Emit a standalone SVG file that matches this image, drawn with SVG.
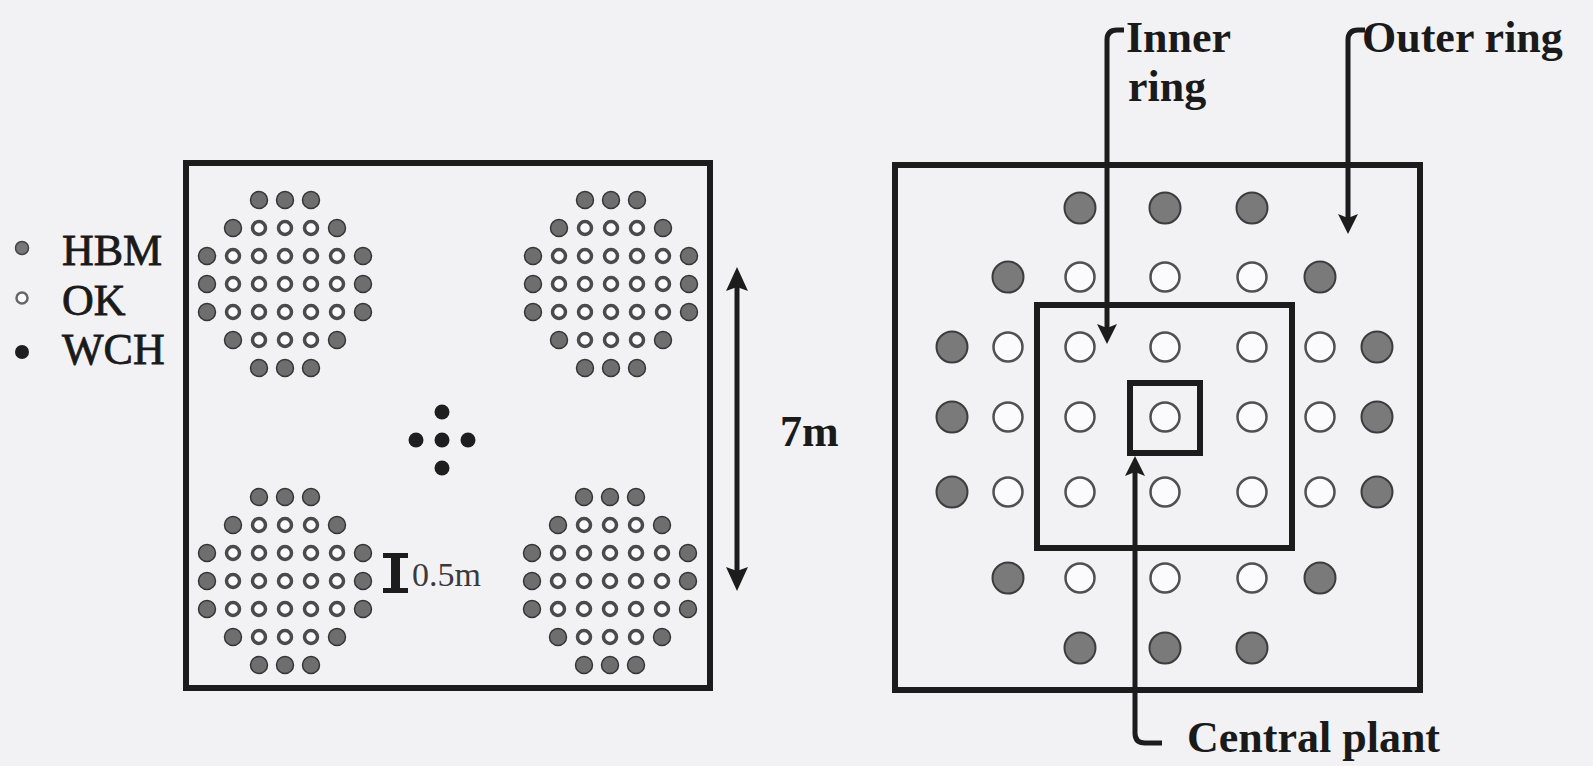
<svg xmlns="http://www.w3.org/2000/svg" width="1593" height="766" viewBox="0 0 1593 766">
<style>
.box{fill:none;stroke:#1c1c1c;stroke-width:6}
.lead{fill:none;stroke:#1c1c1c;stroke-width:5}
.head{fill:#1c1c1c}
.hs{fill:#6e6e6e;stroke:#353535;stroke-width:1.5}
.os{fill:#fbfbfd;stroke:#4a4a4a;stroke-width:3.5}
.hb{fill:#7a7a7a;stroke:#3c3c3c;stroke-width:2}
.ob{fill:#fbfbfd;stroke:#505050;stroke-width:2.5}
.w{fill:#1e1e1e}
.lab{font-family:"Liberation Serif","Times New Roman",serif;font-weight:bold;font-size:44px;fill:#1a1a1a}
.leg{font-family:"Liberation Serif","Times New Roman",serif;font-size:44px;fill:#1a1a1a;stroke:#1a1a1a;stroke-width:0.8}
.sc{font-family:"Liberation Serif","Times New Roman",serif;font-size:34px;fill:#3a3a3a}
</style>
<defs>
<circle id="h" r="8.5" class="hs"/>
<circle id="o" r="6.5" class="os"/>
<circle id="H" r="15.5" class="hb"/>
<circle id="O" r="14.5" class="ob"/>
<g id="cl">
<use href="#h" x="52" y="0"/><use href="#h" x="78" y="0"/><use href="#h" x="104" y="0"/>
<use href="#h" x="26" y="28"/><use href="#o" x="52" y="28"/><use href="#o" x="78" y="28"/><use href="#o" x="104" y="28"/><use href="#h" x="130" y="28"/>
<use href="#h" x="0" y="56"/><use href="#o" x="26" y="56"/><use href="#o" x="52" y="56"/><use href="#o" x="78" y="56"/><use href="#o" x="104" y="56"/><use href="#o" x="130" y="56"/><use href="#h" x="156" y="56"/>
<use href="#h" x="0" y="84"/><use href="#o" x="26" y="84"/><use href="#o" x="52" y="84"/><use href="#o" x="78" y="84"/><use href="#o" x="104" y="84"/><use href="#o" x="130" y="84"/><use href="#h" x="156" y="84"/>
<use href="#h" x="0" y="112"/><use href="#o" x="26" y="112"/><use href="#o" x="52" y="112"/><use href="#o" x="78" y="112"/><use href="#o" x="104" y="112"/><use href="#o" x="130" y="112"/><use href="#h" x="156" y="112"/>
<use href="#h" x="26" y="140"/><use href="#o" x="52" y="140"/><use href="#o" x="78" y="140"/><use href="#o" x="104" y="140"/><use href="#h" x="130" y="140"/>
<use href="#h" x="52" y="168"/><use href="#h" x="78" y="168"/><use href="#h" x="104" y="168"/>
</g>
</defs>
<rect x="0" y="0" width="1593" height="766" fill="#f2f2f5"/>

<g id="legend">
<circle cx="22" cy="248" r="6.5" fill="#777" stroke="#444" stroke-width="1.5"/>
<text class="leg" x="62" y="265">HBM</text>
<circle cx="22" cy="298" r="5.5" fill="#fbfbfd" stroke="#666" stroke-width="2.5"/>
<text class="leg" x="62" y="315">OK</text>
<circle cx="22" cy="352" r="7" class="w"/>
<text class="leg" x="62" y="364">WCH</text>
</g>

<g id="left-plot">
<rect class="box" x="186" y="163" width="524" height="525"/>
<use id="cluster-tl" href="#cl" x="207" y="200"/>
<use id="cluster-tr" href="#cl" x="533" y="200"/>
<use id="cluster-bl" href="#cl" x="207" y="497"/>
<use id="cluster-br" href="#cl" x="532" y="497"/>
<g id="wch-cluster">
<circle cx="442" cy="412" r="7.5" class="w"/>
<circle cx="416" cy="440" r="7.5" class="w"/>
<circle cx="442" cy="440" r="7.5" class="w"/>
<circle cx="468" cy="440" r="7.5" class="w"/>
<circle cx="442" cy="468" r="7.5" class="w"/>
</g>
<g id="scale-bar">
<path class="head" d="M383,553 H408 V558 H400 V588 H408 V593 H383 V588 H391 V558 H383 Z"/>
<text class="sc" x="412" y="586">0.5m</text>
</g>
</g>

<g id="dimension">
<line class="lead" x1="737" y1="286" x2="737" y2="572"/>
<polygon class="head" points="737,267 748,291 737,287 726,291"/>
<polygon class="head" points="737,591 748,567 737,571 726,567"/>
<text class="lab" x="780" y="446">7m</text>
</g>

<g id="right-plot">
<rect id="outer-ring-box" class="box" x="895" y="165" width="525" height="525"/>
<rect id="inner-ring-box" class="box" x="1037" y="305" width="255" height="243"/>
<rect id="central-box" class="box" x="1130" y="383" width="70" height="70"/>
<g id="plants">
<use href="#H" x="1080" y="208"/><use href="#H" x="1165" y="208"/><use href="#H" x="1252" y="208"/>
<use href="#H" x="1008" y="277"/><use href="#O" x="1080" y="277"/><use href="#O" x="1165" y="277"/><use href="#O" x="1252" y="277"/><use href="#H" x="1320" y="277"/>
<use href="#H" x="952" y="347"/><use href="#O" x="1008" y="347"/><use href="#O" x="1080" y="347"/><use href="#O" x="1165" y="347"/><use href="#O" x="1252" y="347"/><use href="#O" x="1320" y="347"/><use href="#H" x="1377" y="347"/>
<use href="#H" x="952" y="417"/><use href="#O" x="1008" y="417"/><use href="#O" x="1080" y="417"/><use href="#O" x="1165" y="417"/><use href="#O" x="1252" y="417"/><use href="#O" x="1320" y="417"/><use href="#H" x="1377" y="417"/>
<use href="#H" x="952" y="492"/><use href="#O" x="1008" y="492"/><use href="#O" x="1080" y="492"/><use href="#O" x="1165" y="492"/><use href="#O" x="1252" y="492"/><use href="#O" x="1320" y="492"/><use href="#H" x="1377" y="492"/>
<use href="#H" x="1008" y="578"/><use href="#O" x="1080" y="578"/><use href="#O" x="1165" y="578"/><use href="#O" x="1252" y="578"/><use href="#H" x="1320" y="578"/>
<use href="#H" x="1080" y="648"/><use href="#H" x="1165" y="648"/><use href="#H" x="1252" y="648"/>
</g>
</g>

<g id="connectors">
<path class="lead" d="M1107,328 V40 Q1107,30 1117,30 H1124"/>
<polygon class="head" points="1107,344 1097,324 1107,328 1117,324"/>
<path class="lead" d="M1348,218 V40 Q1348,30 1358,30 H1365"/>
<polygon class="head" points="1348,234 1338,214 1348,218 1358,214"/>
<path class="lead" d="M1135,472 V733 Q1135,743 1145,743 H1162"/>
<polygon class="head" points="1135,456 1145,476 1135,472 1125,476"/>
</g>

<g id="labels">
<text class="lab" x="1126" y="52">Inner</text>
<text class="lab" x="1128" y="101">ring</text>
<text class="lab" x="1362" y="52">Outer ring</text>
<text class="lab" x="1187" y="752">Central plant</text>
</g>
</svg>
